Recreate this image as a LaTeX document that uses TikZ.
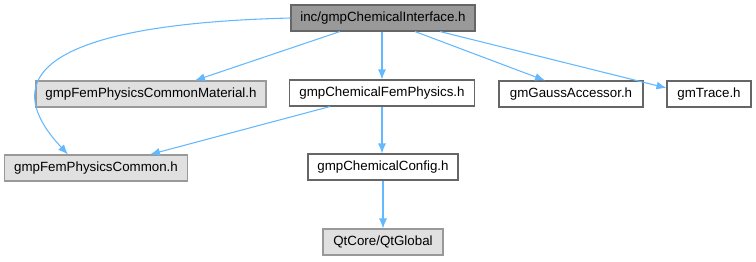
\documentclass[tikz,border=0pt]{standalone}
\usepackage{fontspec}
\setmainfont{Liberation Sans}
\usepackage{tikz}
\usetikzlibrary{arrows.meta, positioning, calc}
\definecolor{edgeblue}{HTML}{63B8FF}
\definecolor{boxdark}{HTML}{666666}
\definecolor{boxmid}{HTML}{999999}
\definecolor{fillgray}{HTML}{E0E0E0}
\tikzset{
  file/.style={rectangle, draw=boxdark, fill=white, line width=0.8pt,
    minimum height=19.5pt, inner sep=0pt, font=\fontsize{10}{12}\selectfont},
  current/.style={file, fill=boxmid},
  extfile/.style={file, draw=boxmid, fill=fillgray},
  edge/.style={-{Latex[length=7.5pt,width=6pt]}, draw=edgeblue, line width=0.8pt}
}
\begin{document}
\begin{tikzpicture}[x=0.75pt, y=-0.75pt]
  \useasboundingbox (0,0) rectangle (756,261);

  % --- top level header ---
  \node[current, minimum width=138pt] (iface) at (383,18) {inc/gmpChemicalInterface.h};

  % --- second row ---
  \node[extfile, minimum width=172.5pt] (material) at (151,94) {gmpFemPhysicsCommonMaterial.h};
  \node[file, minimum width=138.75pt] (femphys) at (382,93) {gmpChemicalFemPhysics.h};
  \node[file, minimum width=108pt] (gauss) at (571,94) {gmGaussAccessor.h};
  \node[file, minimum width=63pt] (trace) at (709,94) {gmTrace.h};

  % --- third row ---
  \node[extfile, minimum width=137pt] (common) at (96,168) {gmpFemPhysicsCommon.h};
  \node[file, minimum width=112.5pt] (config) at (383,167) {gmpChemicalConfig.h};

  % --- bottom ---
  \node[extfile, minimum width=90pt] (qtglobal) at (383,242) {QtCore/QtGlobal};

  % edges
  \draw[edge] (iface.west) .. controls +(-240,6) and +(-75,-80) .. ($(common.north)+(-28,0)$);
  \draw[edge] ($(iface.south)+(-43,0)$) -- ($(material.north)+(44,0)$);
  \draw[edge] (iface.south -| femphys.north) -- (femphys.north);
  \draw[edge] ($(iface.south)+(32,0)$) -- ($(gauss.north)+(-26,0)$);
  \draw[edge] ($(iface.south)+(57,0)$) -- ($(trace.west)+(0,-6)$);
  \draw[edge] ($(femphys.south)+(-52,0)$) -- ($(common.north)+(54,0)$);
  \draw[edge] (femphys.south) -- (config.north -| femphys.south);
  \draw[edge] (config.south) -- (qtglobal.north);
\end{tikzpicture}
\end{document}
